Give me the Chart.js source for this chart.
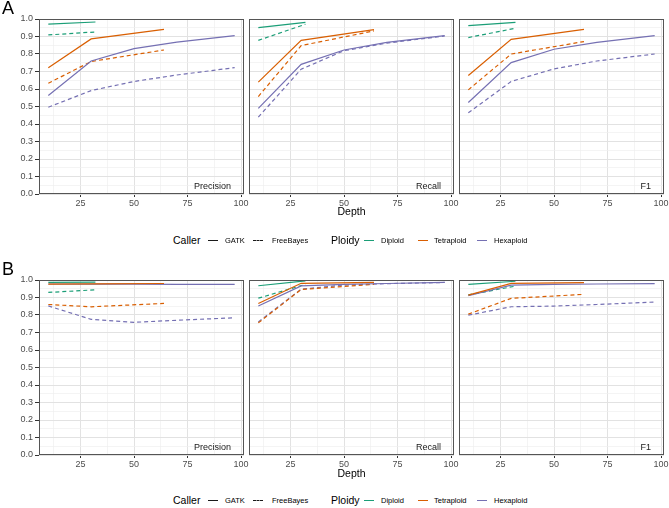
<!DOCTYPE html>
<html><head><meta charset="utf-8">
<script src="https://cdn.jsdelivr.net/npm/chart.js@4.4.1/dist/chart.umd.min.js"></script>
<style>
html,body{margin:0;padding:0;background:#fff}
body{width:669px;height:508px;position:relative;overflow:hidden;font-family:"Liberation Sans",Arial,sans-serif}
canvas{position:absolute}
.t{position:absolute;white-space:nowrap;line-height:1;color:#000}
.key{position:absolute;width:10px;height:0}
</style></head><body>
<script>
// ---------------- data ----------------
const metrics = ['Precision', 'Recall', 'F1'];
const ploidies = ['Diploid', 'Tetraploid', 'Hexaploid'];
const callers = ['GATK', 'FreeBayes'];
const ploidyColors = ['#1b9e77', '#d95f02', '#7570b3'];
const depthDiploid = [10, 32];
const depthTetraploid = [10, 30, 64];
const depthHexaploid = [10, 30, 50, 70, 97];
const xTickLabels = [25, 50, 75, 100];
const yTickLabels = [0.0, 0.1, 0.2, 0.3, 0.4, 0.5, 0.6, 0.7, 0.8, 0.9, 1.0];

// values ordered [Diploid, Tetraploid, Hexaploid]
const A_Precision_GATK = [[0.971, 0.983], [0.722, 0.886, 0.941], [0.563, 0.760, 0.831, 0.868, 0.905]];
const A_Precision_FreeBayes = [[0.909, 0.926], [0.633, 0.757, 0.823], [0.496, 0.591, 0.643, 0.680, 0.722]];
const A_Recall_GATK = [[0.951, 0.981], [0.639, 0.878, 0.939], [0.489, 0.741, 0.823, 0.866, 0.905]];
const A_Recall_FreeBayes = [[0.878, 0.970], [0.557, 0.848, 0.932], [0.439, 0.713, 0.819, 0.862, 0.903]];
const A_F1_GATK = [[0.962, 0.981], [0.677, 0.884, 0.941], [0.523, 0.751, 0.827, 0.866, 0.905]];
const A_F1_FreeBayes = [[0.894, 0.947], [0.595, 0.800, 0.871], [0.464, 0.643, 0.715, 0.760, 0.800]];

const B_Precision_GATK = [[0.986, 0.988], [0.976, 0.978, 0.980], [0.977, 0.976, 0.976, 0.975, 0.975]];
const B_Precision_FreeBayes = [[0.929, 0.944], [0.860, 0.847, 0.866], [0.852, 0.775, 0.758, 0.770, 0.784]];
const B_Recall_GATK = [[0.967, 0.995], [0.866, 0.981, 0.986], [0.851, 0.966, 0.975, 0.980, 0.986]];
const B_Recall_FreeBayes = [[0.896, 0.975], [0.755, 0.946, 0.975], [0.760, 0.948, 0.971, 0.979, 0.986]];
const B_F1_GATK = [[0.975, 0.993], [0.914, 0.981, 0.985], [0.910, 0.971, 0.975, 0.977, 0.979]];
const B_F1_FreeBayes = [[0.915, 0.965], [0.805, 0.895, 0.918], [0.799, 0.847, 0.851, 0.860, 0.874]];

// ---------------- layout ----------------
const FONT = '"Liberation Sans", Arial, sans-serif';
const depths = [depthDiploid, depthTetraploid, depthHexaploid];
const colPlotLeft = [39, 249, 459];
const rowPlotTop = [19, 280];
const plotW = 205, plotH = 175, xAxisH = 20, padTop = 8, padRight = 8;

const rows = [
  [[A_Precision_GATK, A_Precision_FreeBayes], [A_Recall_GATK, A_Recall_FreeBayes], [A_F1_GATK, A_F1_FreeBayes]],
  [[B_Precision_GATK, B_Precision_FreeBayes], [B_Recall_GATK, B_Recall_FreeBayes], [B_F1_GATK, B_F1_FreeBayes]]
];

function makeDatasets(gatk, fb) {
  const ds = [];
  [gatk, fb].forEach((series, ci) => {
    series.forEach((vals, pi) => {
      ds.push({
        label: callers[ci] + ' ' + ploidies[pi],
        data: vals.map((v, i) => ({ x: depths[pi][i], y: v })),
        borderColor: ploidyColors[pi],
        borderWidth: 1.2,
        borderDash: ci ? [4, 3] : [],
        pointRadius: 0,
        tension: 0,
        fill: false
      });
    });
  });
  return ds;
}

const panelDeco = {
  id: 'panelDeco',
  afterDraw(chart, args, opts) {
    const { ctx, chartArea: a } = chart;
    ctx.save();
    ctx.strokeStyle = '#555';
    ctx.lineWidth = 1;
    ctx.strokeRect(Math.round(a.left) + 0.5, Math.round(a.top) + 0.5,
      Math.round(a.right - a.left) - 1, Math.round(a.bottom - a.top) - 1);
    ctx.font = '9px ' + FONT;
    ctx.fillStyle = '#1a1a1a';
    ctx.textAlign = 'right';
    ctx.textBaseline = 'middle';
    ctx.fillText(opts.label, a.right - 13, a.bottom - 7);
    ctx.restore();
  }
};

const isMajorX = v => xTickLabels.includes(v);
const isMajorY = v => Math.round(v * 20) % 2 === 0;

rows.forEach((row, r) => {
  row.forEach((pair, c) => {
    const yW = c === 0 ? 39 : 1;
    const cv = document.createElement('canvas');
    const w = yW + plotW + padRight, h = padTop + plotH + xAxisH;
    cv.width = w; cv.height = h;
    cv.style.left = (colPlotLeft[c] - yW) + 'px';
    cv.style.top = (rowPlotTop[r] - padTop) + 'px';
    cv.style.width = w + 'px'; cv.style.height = h + 'px';
    document.body.appendChild(cv);
    new Chart(cv, {
      type: 'line',
      data: { datasets: makeDatasets(pair[0], pair[1]) },
      plugins: [panelDeco],
      options: {
        responsive: false, animation: false, devicePixelRatio: 1,
        layout: { padding: { top: padTop, right: padRight, left: 0, bottom: 0 } },
        plugins: { legend: { display: false }, tooltip: { enabled: false }, panelDeco: { label: metrics[c] } },
        scales: {
          x: {
            type: 'linear', min: 5.65, max: 101.35,
            afterBuildTicks: s => { s.ticks = [12.5, 25, 37.5, 50, 62.5, 75, 87.5, 100].map(v => ({ value: v })); },
            afterFit: s => { s.height = xAxisH; },
            ticks: {
              autoSkip: false, maxRotation: 0, padding: 1,
              font: { size: 9, family: FONT }, color: '#4d4d4d',
              callback: v => isMajorX(v) ? String(v) : ''
            },
            grid: {
              color: ctx => isMajorX(ctx.tick.value) ? '#e2e2e2' : '#efefef',
              lineWidth: ctx => isMajorX(ctx.tick.value) ? 1 : 0.7,
              tickLength: 3,
              tickColor: ctx => isMajorX(ctx.tick.value) ? '#333' : 'rgba(0,0,0,0)'
            },
            border: { display: false }
          },
          y: {
            type: 'linear', min: 0, max: 1,
            afterBuildTicks: s => { s.ticks = Array.from({ length: 21 }, (_, i) => ({ value: i / 20 })); },
            afterFit: s => { s.width = yW; },
            ticks: {
              display: c === 0, autoSkip: false, padding: 2,
              font: { size: 9, family: FONT }, color: '#4d4d4d',
              callback: v => isMajorY(v) ? yTickLabels[Math.round(v * 10)].toFixed(1) : ''
            },
            grid: {
              color: ctx => isMajorY(ctx.tick.value) ? '#e2e2e2' : '#efefef',
              lineWidth: ctx => isMajorY(ctx.tick.value) ? 1 : 0.7,
              drawTicks: c === 0,
              tickLength: 4,
              tickColor: ctx => isMajorY(ctx.tick.value) ? '#333' : 'rgba(0,0,0,0)'
            },
            border: { display: false }
          }
        }
      }
    });
  });
});

// ---------------- text: panel letters, axis titles, legends ----------------
function addText(txt, left, top, size, extra) {
  const d = document.createElement('div');
  d.className = 't';
  d.textContent = txt;
  d.style.left = left + 'px';
  d.style.top = top + 'px';
  d.style.fontSize = size + 'px';
  if (extra) Object.assign(d.style, extra);
  document.body.appendChild(d);
  return d;
}
function addKey(left, centerY, color, dashed) {
  const k = document.createElement('div');
  k.className = 'key';
  k.style.left = left + 'px';
  k.style.top = (centerY - 0.6) + 'px';
  k.style.borderTop = '1.3px ' + (dashed ? 'dashed ' : 'solid ') + color;
  document.body.appendChild(k);
}

addText('A', 2, -1, 18);
addText('B', 2, 260, 18);
const depthCenterX = (colPlotLeft[0] + colPlotLeft[2] + plotW) / 2;
[212, 474].forEach(cy => {
  addText('Depth', depthCenterX, cy - 6, 10.5, { transform: 'translateX(-50%)' });
});

[241, 501].forEach(cy => {
  addText('Caller', 173, cy - 6, 10.5);
  addKey(208, cy, '#1a1a1a', false);
  addText(callers[0], 225, cy - 4.5, 7.5);
  addKey(253, cy, '#1a1a1a', true);
  addText(callers[1], 272, cy - 4.5, 7.5);
  addText('Ploidy', 331, cy - 6, 10.5);
  addKey(364, cy, ploidyColors[0], false);
  addText(ploidies[0], 381, cy - 4.5, 7.5);
  addKey(418, cy, ploidyColors[1], false);
  addText(ploidies[1], 434, cy - 4.5, 7.5);
  addKey(477, cy, ploidyColors[2], false);
  addText(ploidies[2], 494, cy - 4.5, 7.5);
});
</script>
</body></html>
